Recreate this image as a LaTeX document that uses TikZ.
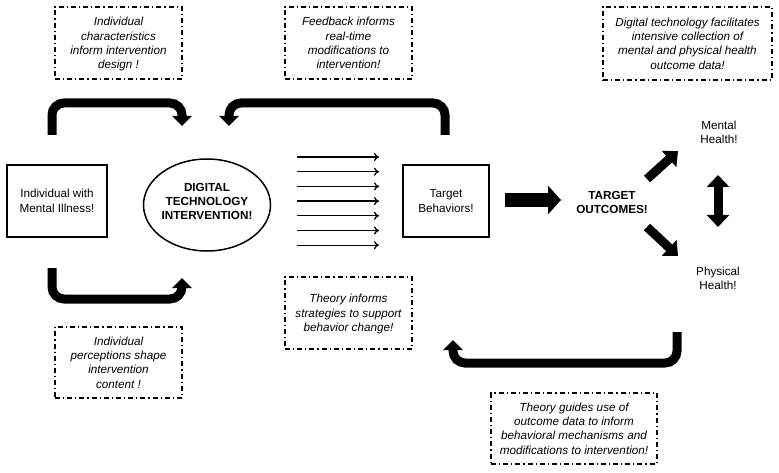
\documentclass[tikz,border=0pt]{standalone}
\usepackage{fontspec}
\setmainfont{Liberation Sans}
\usetikzlibrary{arrows.meta,shapes.geometric}
\begin{document}
\begin{tikzpicture}[x=1pt,y=-1pt,
  note/.style={draw, line width=1.1pt, dash pattern=on 5pt off 3pt on 1.2pt off 3pt, align=center, font=\fontsize{11.7}{14.3}\selectfont\itshape, inner sep=0pt, text depth=-3pt},
  solidbox/.style={draw, line width=1.2pt, align=center, font=\fontsize{11.7}{15}\selectfont, inner sep=0pt},
  plain/.style={align=center, font=\fontsize{11.7}{14}\selectfont},
  boldtext/.style={align=center, font=\fontsize{11.7}{14}\selectfont\bfseries},
  bent/.style={line width=9pt, rounded corners=12pt, -{Triangle[width=19pt,length=10pt]}},
  thinarrow/.style={line width=1.3pt, -{To[length=5pt,width=8pt]}},
  fat/.style={line width=14pt, -{Triangle[width=28pt,length=13pt]}},
  diag/.style={line width=9pt, -{Triangle[width=21pt,length=12pt]}},
  dbl/.style={line width=9pt, {Triangle[width=22pt,length=12pt]}-{Triangle[width=22pt,length=12pt]}}
]
\useasboundingbox (0,0) rectangle (779,473);

% dashed notes
\node[note, minimum width=127pt, minimum height=72pt] (n1) at (118.5,43) {Individual\\characteristics\\inform intervention\\design !};
\node[note, minimum width=127pt, minimum height=72pt] (n2) at (348.5,43) {Feedback informs\\real-time\\modifications to\\intervention!};
\node[note, minimum width=169pt, minimum height=73pt] (n3) at (687.5,43.5) {Digital technology facilitates\\intensive collection of\\mental and physical health\\outcome data!};
\node[note, minimum width=127pt, minimum height=71pt] (n4) at (118.5,362.5) {Individual\\perceptions shape\\intervention\\content !};
\node[note, minimum width=127pt, minimum height=72pt] (n5) at (348.5,313) {Theory informs\\strategies to support\\behavior change!};
\node[note, minimum width=166pt, minimum height=71pt] (n6) at (574,428.5) {Theory guides use of\\outcome data to inform\\behavioral mechanisms and\\modifications to intervention!};

% main nodes
\node[solidbox, minimum width=100pt, minimum height=72pt] (ind) at (57,201) {Individual with\\Mental Illness!};
\node[draw, ellipse, line width=1.5pt, minimum width=127pt, minimum height=92pt, inner sep=0pt] (dti) at (207,205) {};
\node[boldtext] (dtit) at (207,201.5) {DIGITAL\\TECHNOLOGY\\INTERVENTION!};
\node[solidbox, minimum width=86pt, minimum height=72pt] (tb) at (446,201) {Target\\Behaviors!};
\node[boldtext] (to) at (612,202) {TARGET\\OUTCOMES!};
\node[plain] (mh) at (719,132) {Mental\\Health!};
\node[plain] (ph) at (718,278.5) {Physical\\Health!};

% bent arrows
\coordinate (a1s) at (52,135); \coordinate (a1e) at (182,126);
\draw[bent] (a1s) |- (117,103) -| (a1e);
\coordinate (a2s) at (445,135); \coordinate (a2e) at (229,126);
\draw[bent] (a2s) |- (337,103) -| (a2e);
\coordinate (a3s) at (52,268); \coordinate (a3e) at (182,278);
\draw[bent] (a3s) |- (117,299) -| (a3e);
\coordinate (a4s) at (677,332); \coordinate (a4e) at (453,340);
\draw[bent] (a4s) |- (565,363) -| (a4e);

% thin arrows
\foreach \i in {0,...,6} {
  \coordinate (ts\i) at (297,157+14.7*\i);
  \coordinate (te\i) at (379,157+14.7*\i);
  \draw[thinarrow] (ts\i) -- (te\i);
}

% fat arrows
\coordinate (fs) at (505,200); \coordinate (fe) at (561,200);
\draw[fat] (fs) -- (fe);
\coordinate (u1) at (647,179); \coordinate (u2) at (678,151);
\draw[diag] (u1) -- (u2);
\coordinate (d1) at (647,227); \coordinate (d2) at (678,256);
\draw[diag] (d1) -- (d2);
\coordinate (v1) at (718,175); \coordinate (v2) at (718,227);
\draw[dbl] (v1) -- (v2);
\end{tikzpicture}
\end{document}
